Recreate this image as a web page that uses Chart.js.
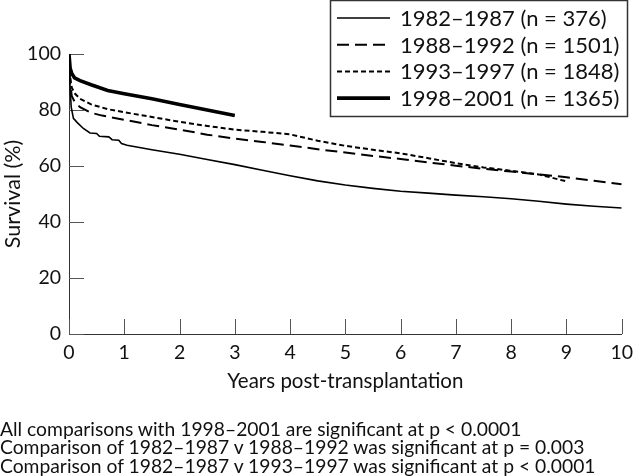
<!DOCTYPE html>
<html>
<head>
<meta charset="utf-8">
<script src="https://cdn.jsdelivr.net/npm/chart.js@4.4.0/dist/chart.umd.min.js"></script>
<style>
  body { margin: 0; background: #fff; }
  #wrap { position: relative; width: 640px; height: 476px; }
  #notes { position: absolute; left: 0; top: 420px; font: 19.3px Lato, sans-serif; line-height: 18.3px; color: #111; white-space: nowrap; }
</style>
</head>
<body>
<div id="wrap">
  <canvas id="chart" width="640" height="476"></canvas>
  <div id="notes">
    All comparisons with 1998–2001 are significant at p &lt; 0.0001<br>
    Comparison of 1982–1987 v 1988–1992 was significant at p = 0.003<br>
    Comparison of 1982–1987 v 1993–1997 was significant at p &lt; 0.0001
  </div>
</div>
<script>
// series labels
const seriesLabels = ['1982–1987 (n = 376)', '1988–1992 (n = 1501)', '1993–1997 (n = 1848)', '1998–2001 (n = 1365)'];

// 1982-1987
const years1 = [0, 0.02, 0.04, 0.08, 0.15, 0.26, 0.38, 0.5, 0.55, 0.72, 0.78, 0.9, 0.95, 1.05, 1.5, 2, 2.5, 3, 3.5, 4, 4.5, 5, 5.5, 6, 6.5, 7, 7.5, 8, 8.5, 9, 9.5, 10];
const surv1 = [100, 88, 81, 77, 75.5, 73.4, 71.8, 71.6, 70.6, 70.4, 69.4, 69.2, 68, 67.4, 65.8, 64.2, 62.3, 60.5, 58.5, 56.5, 54.7, 53.2, 52, 51, 50.3, 49.6, 49, 48.3, 47.4, 46.4, 45.6, 45];

// 1988-1992
const years2 = [0, 0.02, 0.05, 0.1, 0.2, 0.4, 0.6, 1, 1.5, 2, 2.5, 3, 3.5, 4, 4.5, 5, 5.5, 6, 6.5, 7, 7.5, 8, 8.5, 9, 9.5, 10];
const surv2 = [100, 90, 85, 83, 81, 79, 78, 76.5, 74.6, 73, 71.2, 69.8, 68.6, 67.3, 66, 64.8, 63.6, 62.5, 61.3, 60.1, 59, 58, 57, 56, 54.7, 53.5];

// 1993-1997
const years3 = [0, 0.02, 0.05, 0.1, 0.2, 0.4, 0.7, 1, 1.5, 2, 2.5, 3, 3.5, 4, 4.5, 5, 5.5, 6, 6.5, 7, 7.5, 8, 8.5, 8.8, 9];
const surv3 = [100, 92, 88, 86, 84, 82, 80.3, 79.2, 77.5, 75.8, 74.3, 73, 72.2, 71.3, 69, 67.2, 65.8, 64.5, 62.8, 61, 59.5, 58.3, 57, 55.5, 54.5];

// 1998-2001
const years4 = [0, 0.02, 0.05, 0.1, 0.2, 0.4, 0.7, 1, 1.5, 2, 2.5, 3];
const surv4 = [100, 95, 93, 91.5, 90.5, 89, 87, 85.8, 84, 82, 80, 78];

const xTicks = [0, 1, 2, 3, 4, 5, 6, 7, 8, 9, 10];
const yTicks = [0, 20, 40, 60, 80, 100];

const lineStyles = [
  { width: 1.6, dash: [] },
  { width: 2, dash: [12, 6] },
  { width: 2, dash: [5, 3] },
  { width: 3.6, dash: [] }
];

const pts = (xs, ys) => xs.map((x, i) => ({ x: x, y: ys[i] }));
const seriesData = [pts(years1, surv1), pts(years2, surv2), pts(years3, surv3), pts(years4, surv4)];

Chart.defaults.font.family = 'Lato, sans-serif';
Chart.defaults.color = '#111';

const innerTicks = {
  id: 'innerTicks',
  beforeDatasetsDraw(chart) {
    const { ctx, scales: { x, y } } = chart;
    ctx.save();
    ctx.strokeStyle = '#555';
    ctx.lineWidth = 1;
    ctx.beginPath();
    xTicks.forEach(v => {
      const px = Math.round(x.getPixelForValue(v)) + 0.5;
      ctx.moveTo(px, y.bottom);
      ctx.lineTo(px, y.bottom - 15);
    });
    yTicks.forEach(v => {
      const py = Math.round(y.getPixelForValue(v)) + 0.5;
      ctx.moveTo(x.left, py);
      ctx.lineTo(x.left + 15, py);
    });
    ctx.stroke();
    ctx.restore();
  }
};

const boxLegend = {
  id: 'boxLegend',
  afterDraw(chart) {
    const ctx = chart.ctx;
    ctx.save();
    ctx.fillStyle = '#fff';
    ctx.fillRect(330, 0, 298, 117);
    ctx.strokeStyle = '#333';
    ctx.lineWidth = 1.5;
    ctx.strokeRect(330.5, 0.5, 297, 116);
    ctx.font = '22px Lato, sans-serif';
    ctx.textBaseline = 'middle';
    ctx.fillStyle = '#111';
    chart.data.datasets.forEach((ds, i) => {
      const cy = 18 + i * 26.7;
      ctx.beginPath();
      ctx.strokeStyle = '#000';
      ctx.lineWidth = ds.borderWidth;
      ctx.setLineDash(ds.borderDash);
      ctx.moveTo(337, cy);
      ctx.lineTo(390, cy);
      ctx.stroke();
      ctx.setLineDash([]);
      ctx.fillText(ds.label, 400, cy + 1);
    });
    ctx.restore();
  }
};

new Chart(document.getElementById('chart'), {
  type: 'line',
  data: {
    datasets: seriesData.map((d, i) => ({
      label: seriesLabels[i],
      data: d,
      borderColor: '#000',
      borderWidth: lineStyles[i].width,
      borderDash: lineStyles[i].dash,
      pointRadius: 0,
      tension: 0,
      fill: false
    }))
  },
  options: {
    responsive: false,
    devicePixelRatio: 1,
    animation: false,
    layout: { autoPadding: false, padding: { top: 54, right: 11, bottom: 82, left: 0 } },
    plugins: { legend: { display: false }, tooltip: { enabled: false } },
    scales: {
      x: {
        type: 'linear',
        min: 0,
        max: 10,
        afterBuildTicks: s => { s.ticks = xTicks.map(v => ({ value: v })); },
        ticks: { font: { size: 19.5 }, padding: 7, maxRotation: 0 },
        grid: { drawOnChartArea: false, drawTicks: false },
        border: { color: '#333', width: 1 },
        title: { display: true, text: 'Years post-transplantation', font: { size: 20.5 }, padding: { top: 4, bottom: 0 } },
        afterFit: s => { s.height = 60; }
      },
      y: {
        min: 0,
        max: 100,
        afterBuildTicks: s => { s.ticks = yTicks.map(v => ({ value: v })); },
        ticks: { font: { size: 19.5 }, padding: 8 },
        grid: { drawOnChartArea: false, drawTicks: false },
        border: { color: '#333', width: 1 },
        title: { display: true, text: 'Survival (%)', font: { size: 21.5 }, padding: { top: 0, bottom: 0 } },
        afterFit: s => { s.width = 69; }
      }
    }
  },
  plugins: [innerTicks, boxLegend]
});
</script>
</body>
</html>
